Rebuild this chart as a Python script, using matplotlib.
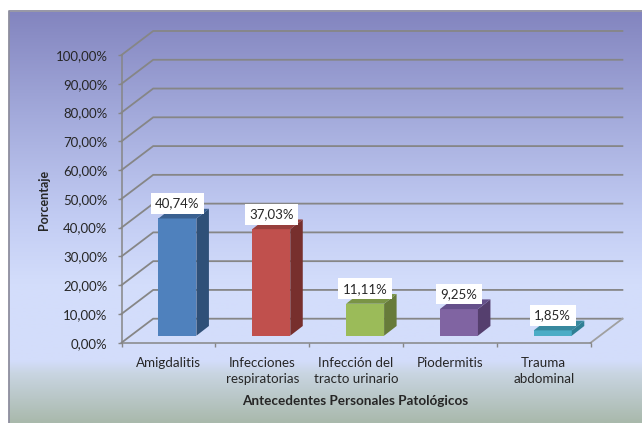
import numpy as np
import matplotlib
matplotlib.use("Agg")
import matplotlib.pyplot as plt
from matplotlib.colors import LinearSegmentedColormap
from matplotlib.patches import Polygon

categories = ["Amigdalitis", "Infecciones\nrespiratorias", "Infección del\ntracto urinario",
              "Piodermitis", "Trauma\nabdominal"]
values = [40.74, 37.03, 11.11, 9.25, 1.85]
value_labels = ["40,74%", "37,03%", "11,11%", "9,25%", "1,85%"]
y_ticks = list(range(0, 101, 10))
y_tick_labels = [f"{v},00%" for v in y_ticks]
xlabel = "Antecedentes Personales Patológicos"
ylabel = "Porcentaje"

front = ["#4F81BD", "#C0504D", "#9BBB59", "#8064A2", "#4BACC6"]
side = ["#2F5078", "#772F2D", "#677B3A", "#553F6E", "#2F7F94"]
top = ["#3A6090", "#983F3C", "#7A9446", "#65508A", "#38899E"]

W, H = 642, 423
plt.rcParams["font.family"] = ["Lato", "DejaVu Sans"]
fig = plt.figure(figsize=(W / 100, H / 100), dpi=100, facecolor="white")

# background panel
bg = fig.add_axes([0, 0, 1, 1], zorder=0)
bg.axis("off")
stops = [(0, "#8385BF"), (0.25, "#A3AADB"), (0.5, "#C2CCF3"), (0.66, "#D3DDFB"),
         (0.85, "#D3DDFB"), (0.88, "#C9D5E2"), (1, "#A9B9AC")]
cmap = LinearSegmentedColormap.from_list("bg", stops)
bg.imshow(np.linspace(0, 1, 256)[:, None], cmap=cmap, aspect="auto",
          extent=(9, W, H, 12), interpolation="bilinear")
bg.set_xlim(0, W); bg.set_ylim(H, 0)
bg.plot([8.5, 8.5, W], [H, 11.5, 11.5], color="#8E8E9E", lw=1.3, solid_capstyle="butt")

# axes = the front plane of the 3D box
x0, x1, y0, y1 = 121.5, 590.7, 342.7, 55.0
ax = fig.add_axes([x0 / W, 1 - y0 / H, (x1 - x0) / W, (y0 - y1) / H], zorder=1)
ax.patch.set_alpha(0)
ax.set_xlim(0, 5); ax.set_ylim(0, 100)
for s in ("top", "right"):
    ax.spines[s].set_visible(False)
for s in ("left", "bottom"):
    ax.spines[s].set_color("#868686"); ax.spines[s].set_linewidth(1.1)

pxx = 5 / (x1 - x0)
pxy = 100 / (y0 - y1)
DX, DY = 31.7 * pxx, 24 * pxy       # box depth
BX, BY = 12.5 * pxx, 9.7 * pxy      # bar depth
grid = "#868686"
for v in y_ticks:
    ax.plot([0, DX, 5 + DX], [v, v + DY, v + DY], color=grid, lw=1.3, clip_on=False,
            zorder=1, solid_joinstyle="miter")
ax.plot([5, 5 + DX], [0, DY], color="#A0A0A0", lw=1.3, clip_on=False, zorder=1)

xs = np.arange(5) + 0.5
width = 38 * pxx
bx = xs + 9.0 * pxx
base = 7 * pxy
ax.bar(bx, values, width=width, bottom=base, color=front, zorder=3, clip_on=False)
for xc, v, c_s, c_t in zip(bx, values, side, top):
    l, r, t = xc - width / 2, xc + width / 2, base + v
    ax.add_patch(Polygon([(r, base), (r + BX, base + BY), (r + BX, t + BY), (r, t)],
                         fc=c_s, ec="none", zorder=3, clip_on=False))
    ax.add_patch(Polygon([(l, t), (l + BX, t + BY), (r + BX, t + BY), (r, t)],
                         fc=c_t, ec="none", zorder=3, clip_on=False))

txt = "#262626"
for xc, v, lab in zip(bx, values, value_labels):
    ax.annotate(lab, (xc, base + v), xytext=(0, 10.8), textcoords="offset points",
                ha="center", va="center", fontsize=9.5, color=txt, zorder=5,
                bbox=dict(fc="white", ec="none", boxstyle="square,pad=0.33"),
                annotation_clip=False)

ax.set_yticks(y_ticks, y_tick_labels, fontsize=9.5, color=txt)
ax.set_xticks(range(6), [""] * 6)
ax.set_xticks(xs, categories, minor=True, fontsize=9.6, color=txt, linespacing=1.42)
ax.tick_params(axis="both", which="major", length=3, width=1, color=grid, pad=7)
ax.tick_params(axis="x", which="minor", length=0, pad=10)

fig.text(355 / W, 1 - 401 / H, xlabel, ha="center", va="center", fontsize=9.7,
         fontweight="bold", color=txt)
fig.text(44 / W, 1 - 199.5 / H, ylabel, ha="center", va="center", rotation=90, fontsize=9,
         fontweight="bold", color=txt)

fig.savefig("out.png", dpi=100, facecolor="white")
